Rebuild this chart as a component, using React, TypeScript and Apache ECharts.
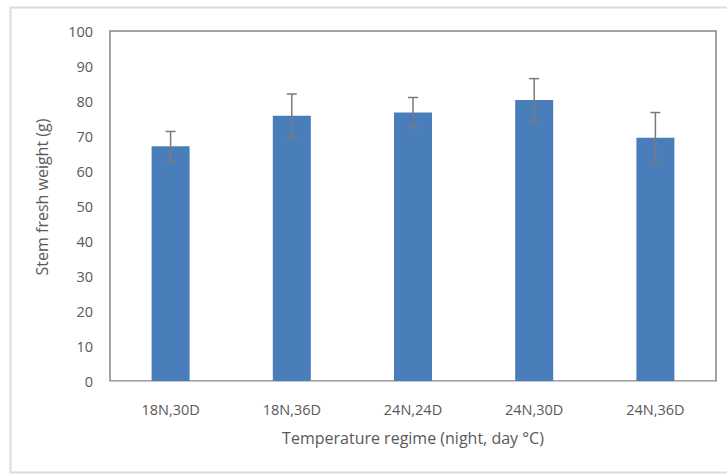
import React, { useEffect, useRef } from "react";
import * as echarts from "echarts";

const categories = ["18N,30D", "18N,36D", "24N,24D", "24N,30D", "24N,36D"];
const means = [67.1, 75.8, 76.7, 80.3, 69.5];
const errors = [4.2, 6.2, 4.3, 6.1, 7.2];

const FONT = "'Open Sans', 'Liberation Sans', sans-serif";

export default function App() {
  const ref = useRef<HTMLDivElement>(null);
  useEffect(() => {
    if (!ref.current) return;
    const chart = echarts.init(ref.current, null, { renderer: "svg" });
    const errData = means.map((m, i) => [i, m - errors[i], m + errors[i]]);
    chart.setOption({
      animation: false,
      backgroundColor: "#ffffff",
      textStyle: { fontFamily: FONT },
      graphic: [
        {
          type: "rect",
          shape: { x: 10.5, y: 7.5, width: 730, height: 465 },
          style: { fill: "none", stroke: "#dcdcdc", lineWidth: 2 },
          silent: true,
          z: -10,
        },
      ],
      grid: {
        left: 110,
        right: 11,
        top: 31,
        bottom: 94,
        show: true,
        borderColor: "#858585",
        borderWidth: 1.5,
        backgroundColor: "transparent",
      },
      xAxis: {
        type: "category",
        data: categories,
        name: "Temperature regime (night, day °C)",
        nameLocation: "middle",
        nameGap: 49,
        nameTextStyle: { fontSize: 16, color: "#595959", fontFamily: FONT },
        axisLine: { show: true, lineStyle: { color: "#c8c8c8", width: 1 } },
        axisTick: { show: false },
        axisLabel: { fontSize: 14.5, color: "#595959", margin: 21, fontFamily: FONT },
        splitLine: { show: false },
      },
      yAxis: {
        type: "value",
        min: 0,
        max: 100,
        interval: 10,
        name: "Stem fresh weight (g)",
        nameLocation: "middle",
        nameGap: 60,
        nameRotate: 90,
        nameTextStyle: {
          fontSize: 16,
          color: "#595959",
          fontFamily: FONT,
          padding: [0, 0, 0, 18],
        },
        axisLine: { show: false },
        axisTick: { show: false },
        axisLabel: { fontSize: 14.5, color: "#595959", margin: 17, fontFamily: FONT },
        splitLine: { show: false },
      },
      series: [
        {
          type: "bar",
          data: means,
          barWidth: 38,
          itemStyle: { color: "#4a7ebb" },
        },
        {
          type: "custom",
          data: errData,
          z: 10,
          renderItem: (params: any, api: any) => {
            const idx = api.value(0);
            const lo = api.coord([idx, api.value(1)]);
            const hi = api.coord([idx, api.value(2)]);
            const cap = 5;
            const style = { stroke: "#7a7a7a", lineWidth: 1.5 };
            return {
              type: "group",
              children: [
                { type: "line", shape: { x1: hi[0], y1: hi[1], x2: lo[0], y2: lo[1] }, style },
                { type: "line", shape: { x1: hi[0] - cap, y1: hi[1], x2: hi[0] + cap, y2: hi[1] }, style },
                { type: "line", shape: { x1: lo[0] - cap, y1: lo[1], x2: lo[0] + cap, y2: lo[1] }, style },
              ],
            };
          },
        },
      ],
    });
    return () => chart.dispose();
  }, []);
  return (
    <div
      ref={ref}
      style={{ position: "fixed", left: 0, top: 0, width: 727, height: 475 }}
    />
  );
}
